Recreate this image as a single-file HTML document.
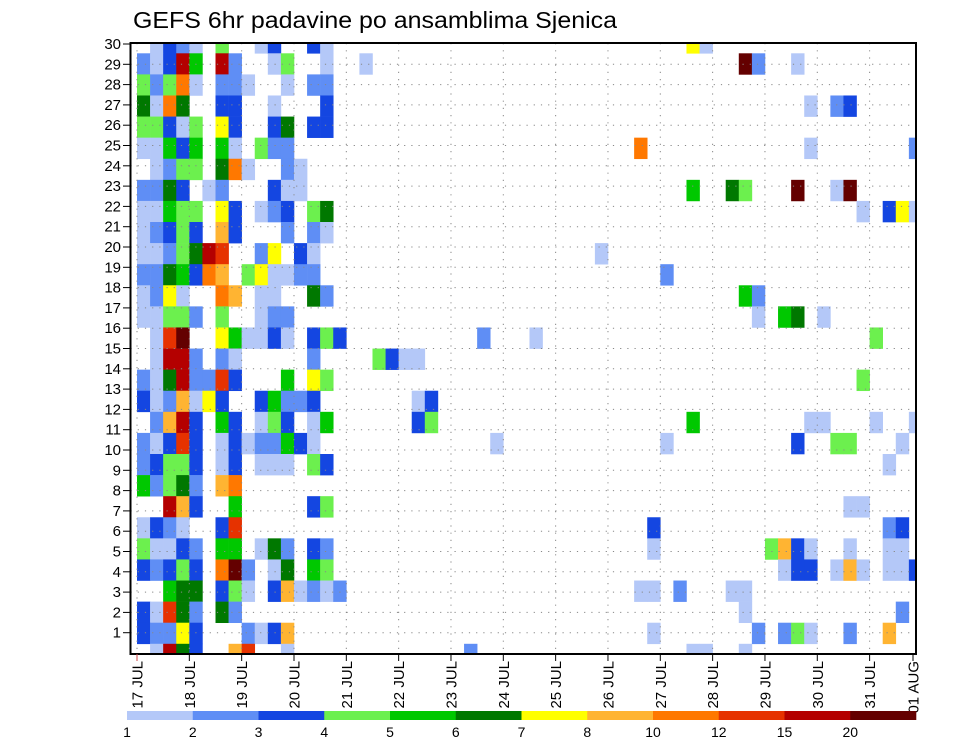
<!DOCTYPE html>
<html><head><meta charset="utf-8"><title>GEFS 6hr padavine po ansamblima Sjenica</title>
<style>
html,body{margin:0;padding:0;background:#fff;}
svg{display:block;font-family:"Liberation Sans",sans-serif;}
</style></head>
<body>
<svg id="chart" width="960" height="742" viewBox="0 0 960 742" xmlns="http://www.w3.org/2000/svg">
<text x="133" y="28" font-size="23" textLength="484" lengthAdjust="spacingAndGlyphs" fill="#000">GEFS 6hr padavine po ansamblima Sjenica</text>
<g id="cells"></g>
<g id="grid"></g>
<rect x="130.5" y="43" width="785.5" height="611" fill="none" stroke="#000" stroke-width="2"/>
<g id="yaxis"></g>
<g id="xaxis"></g>
<g id="cbar"></g>
</svg>
<script>
// ---- data ----
const dayLabels = ["17 JUL","18 JUL","19 JUL","20 JUL","21 JUL","22 JUL","23 JUL","24 JUL","25 JUL","26 JUL","27 JUL","28 JUL","29 JUL","30 JUL","31 JUL","01 AUG"];
const memberLabels = [30,29,28,27,26,25,24,23,22,21,20,19,18,17,16,15,14,13,12,11,10,9,8,7,6,5,4,3,2,1];
const legendLabels = ["1","2","3","4","5","6","7","8","10","12","15","20"];
const levelColors = ["#b4c8f8","#5f8ef5","#1446e1","#6cf04e","#00c800","#007800","#ffff00","#ffb432","#ff7800","#e63200","#b40000","#640000"];
// precipitation class per member row (top to bottom): first 16 six-hour steps as hex class codes (0 = none)
const rowHeads = [
 "0132104001300310","213b50b200140010","4249102210010220","6196003300100030",
 "4431407300360330","1153505104220000","0124406910021000","2263012000311000",
 "1154407301230460","1234308300020210","11246ba002703100","2265398047112200",
 "1271009801100620","1144204001220000","01ac007511310343","01bb202100000200",
 "216b22a300050740","3128173003522300","028b305301430150","213a301312253100",
 "2344301301110430","5246208900000000","00b8300500000340","1321003a00000000",
 "4113205501620320","3234309c20160540","0056603410381212","31a6206200000000",
 "3227300021380000","01b63008a0010000"];
// later steps: sparse {step: class}
const rowTails = [
 {42:7,43:1},{17:1,46:12,47:2,50:1},{},{51:1,53:2,54:3},
 {},{38:9,51:1,59:2},{},{42:5,45:6,46:4,50:12,53:1,54:12},
 {55:1,57:3,58:7,59:1},{},{35:1},{40:2},
 {46:5,47:2},{47:1,49:5,50:6,52:1},{26:2,30:1,56:4},{18:4,19:3,20:1,21:1},
 {55:4},{21:1,22:3},{21:3,22:4,42:5,51:1,52:1,56:1,59:1},{27:1,40:1,50:3,53:4,54:4,58:1},
 {57:1},{},{54:1,55:1},{39:3,57:2,58:3},
 {39:1,48:4,49:8,50:3,51:1,54:1,57:1,58:1},{49:1,50:3,51:3,53:1,54:8,55:1,57:1,58:1,59:3},{38:1,39:1,41:2,45:1,46:1},{46:1,58:2},
 {39:1,47:2,49:2,50:4,51:1,54:2,57:8},{25:2,42:1,43:1,46:1}];

// ---- geometry / scales ----
const NS = "http://www.w3.org/2000/svg";
const plotL = 130.5, plotR = 916, plotT = 43, plotB = 654;
const day0X = 137, dayW = 52.33, stepsPerDay = 4, nSteps = 60;
const stepW = dayW / stepsPerDay;
function xDay(d){ return day0X + d * dayW; }
function xStep(s){ return day0X + s * stepW; }
const rowH = (643.8 - 53.3) / 28;
function rowTop(k){ if (k === 0) return plotT; return 53.3 + (k - 1) * rowH; }
function rowBottom(k){ if (k === rowHeads.length - 1) return plotB; return 53.3 + k * rowH; }
const labelStep = 20.3;
function yLabel(m){ return 44 + (30 - m) * labelStep; }
function levelAt(k, s){
  if (s < rowHeads[k].length) return parseInt(rowHeads[k][s], 16);
  return rowTails[k][s] || 0;
}

// ---- cells ----
const cellsG = document.getElementById('cells');
for (let k = 0; k < rowHeads.length; k++) {
  for (let s = 0; s < nSteps; s++) {
    const lv = levelAt(k, s);
    if (!lv) continue;
    const x0 = Math.max(plotL, xStep(s)), x1 = Math.min(plotR, xStep(s + 1));
    if (x1 <= x0) continue;
    const r = document.createElementNS(NS, 'rect');
    r.setAttribute('x', x0.toFixed(2));
    r.setAttribute('y', rowTop(k).toFixed(2));
    r.setAttribute('width', (x1 - x0 + 0.3).toFixed(2));
    r.setAttribute('height', (rowBottom(k) - rowTop(k) + 0.3).toFixed(2));
    r.setAttribute('fill', levelColors[lv - 1]);
    
    
    cellsG.appendChild(r);
  }
}

// ---- grid ----
const gridG = document.getElementById('grid');
memberLabels.forEach(function(m){
  if (m === 30) return;
  const l = document.createElementNS(NS, 'line');
  l.setAttribute('x1', plotL); l.setAttribute('x2', plotR);
  l.setAttribute('y1', yLabel(m)); l.setAttribute('y2', yLabel(m));
  l.setAttribute('stroke', '#888'); l.setAttribute('stroke-width', '1');
  l.setAttribute('stroke-dasharray', '1.2 6');
  
  
  gridG.appendChild(l);
});
dayLabels.forEach(function(d, i){
  const x = xDay(i);
  if (x <= plotL + 2 || x >= plotR - 2) return;
  const l = document.createElementNS(NS, 'line');
  l.setAttribute('x1', x); l.setAttribute('x2', x);
  l.setAttribute('y1', plotT); l.setAttribute('y2', plotB);
  l.setAttribute('stroke', '#888'); l.setAttribute('stroke-width', '1');
  l.setAttribute('stroke-dasharray', '1.2 6');
  
  
  gridG.appendChild(l);
});

// ---- y axis ----
const yG = document.getElementById('yaxis');
memberLabels.forEach(function(m){
  const y = yLabel(m);
  const t = document.createElementNS(NS, 'line');
  t.setAttribute('x1', 123); t.setAttribute('x2', plotL);
  t.setAttribute('y1', y); t.setAttribute('y2', y);
  t.setAttribute('stroke', '#000'); t.setAttribute('stroke-width', '1');
  
  
  yG.appendChild(t);
  const tx = document.createElementNS(NS, 'text');
  tx.setAttribute('x', 121); tx.setAttribute('y', y + 5);
  tx.setAttribute('text-anchor', 'end'); tx.setAttribute('font-size', '15');
  tx.textContent = String(m);
  
  
  yG.appendChild(tx);
});

// ---- x axis ----
const xG = document.getElementById('xaxis');
dayLabels.forEach(function(d, i){
  let x = xDay(i);
  if (x > plotR) x = plotR - 3;
  const t = document.createElementNS(NS, 'line');
  t.setAttribute('x1', x); t.setAttribute('x2', x);
  t.setAttribute('y1', plotB); t.setAttribute('y2', plotB + 7);
  t.setAttribute('stroke', i === 0 ? '#c44' : '#000'); t.setAttribute('stroke-width', '1');
  
  
  xG.appendChild(t);
  const tx = document.createElementNS(NS, 'text');
  tx.setAttribute('transform', 'translate(' + (x + 5.5) + ',661) rotate(-90)');
  tx.setAttribute('text-anchor', 'end'); tx.setAttribute('font-size', '15');
  tx.textContent = d;
  
  
  xG.appendChild(tx);
});

// ---- color legend ----
const cG = document.getElementById('cbar');
const cbL = 127, cbR = 916, cbY = 711, cbH = 9;
const segW = (cbR - cbL) / levelColors.length;
levelColors.forEach(function(c, i){
  const r = document.createElementNS(NS, 'rect');
  r.setAttribute('x', cbL + i * segW); r.setAttribute('y', cbY);
  r.setAttribute('width', segW + 0.3); r.setAttribute('height', cbH);
  r.setAttribute('fill', c);
  
  
  cG.appendChild(r);
});
legendLabels.forEach(function(lbl, i){
  const tx = document.createElementNS(NS, 'text');
  tx.setAttribute('x', cbL + i * segW); tx.setAttribute('y', 737);
  tx.setAttribute('text-anchor', 'middle'); tx.setAttribute('font-size', '14');
  tx.textContent = lbl;
  
  
  cG.appendChild(tx);
});
</script>
</body></html>
